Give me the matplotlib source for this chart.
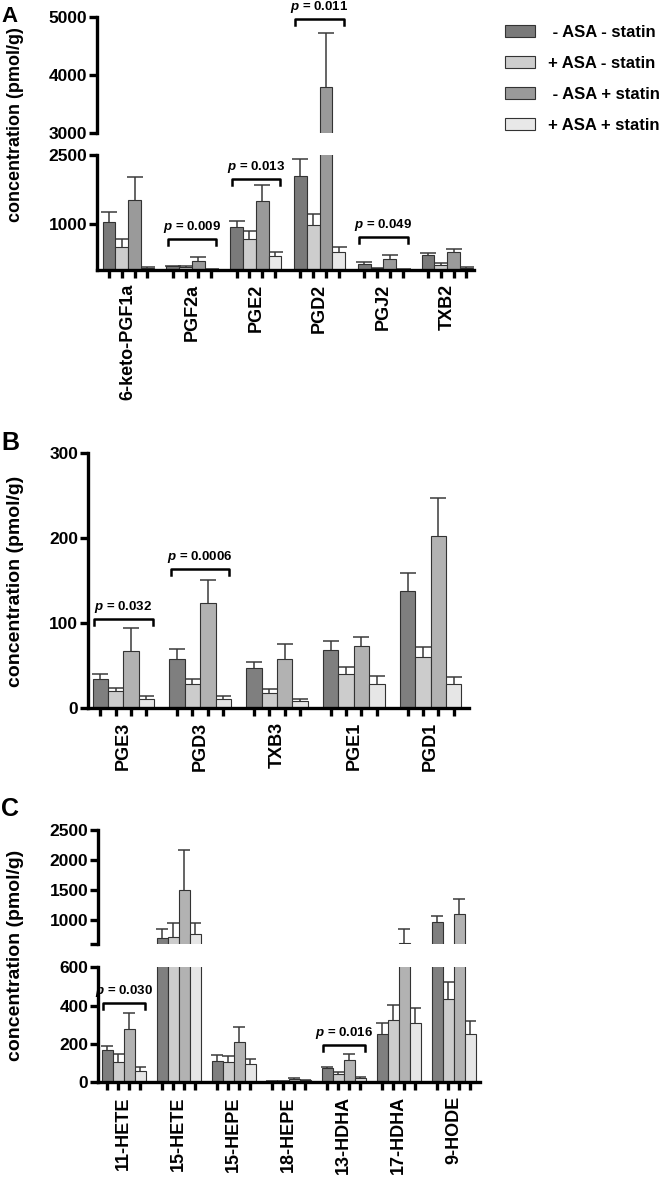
import matplotlib
matplotlib.use('Agg')
import matplotlib.pyplot as plt
from matplotlib.patches import Patch
import numpy as np

plt.rcParams['font.family'] = ['Liberation Sans', 'DejaVu Sans']
plt.rcParams['font.weight'] = 'bold'
plt.rcParams['mathtext.fontset'] = 'custom'
plt.rcParams['mathtext.it'] = 'Liberation Sans:italic:bold'
plt.rcParams['mathtext.rm'] = 'Liberation Sans:bold'

legend_labels = [' - ASA - statin', '+ ASA - statin', ' - ASA + statin', '+ ASA + statin']

# panel A (rows = treatment groups, columns = analytes)
a_names = ['6-keto-PGF1a', 'PGF2a', 'PGE2', 'PGD2', 'PGJ2', 'TXB2']
a_mean = [[1050, 80, 930, 2050, 130, 327],
          [495, 70, 675, 975, 40, 104],
          [1525, 190, 1500, 3800, 245, 385],
          [50, 20, 295, 390, 8, 52]]
a_err = [[200, 10, 145, 370, 45, 50],
         [185, 10, 165, 250, 8, 45],
         [490, 85, 350, 920, 80, 80],
         [25, 5, 90, 105, 3, 10]]
a_p = [(1, 670, '0.009'), (2, 1980, '0.013'), (3, 4960, '0.011'), (4, 720, '0.049')]

# panel B
b_names = ['PGE3', 'PGD3', 'TXB3', 'PGE1', 'PGD1']
b_mean = [[34.5, 58.4, 47.8, 69, 137.5],
          [20, 28.6, 17.6, 40, 59.8],
          [66.7, 123.5, 58.4, 72.7, 202],
          [10.6, 11.4, 8.6, 29, 28.5]]
b_err = [[6, 11, 6.7, 10, 21],
         [4.3, 6.3, 4.8, 8.4, 12.5],
         [27, 27, 17.6, 11, 45],
         [3.5, 2.7, 2, 9, 8.5]]
b_p = [(0, 105, '0.032'), (1, 163, '0.0006')]

# panel C
c_names = ['11-HETE', '15-HETE', '15-HEPE', '18-HEPE', '13-HDHA', '17-HDHA', '9-HODE']
c_mean = [[169, 694, 110, 7, 73, 254, 961],
          [108, 722, 104, 7, 43, 323, 435],
          [278, 1500, 210, 17, 117, 610, 1105],
          [61, 761, 94, 10, 21, 311, 254]]
c_err = [[22, 150, 33, 2, 5, 54, 111],
         [38, 222, 33, 2, 13, 80, 87],
         [82, 667, 80, 4, 31, 240, 245],
         [17, 195, 26, 4, 7, 79, 66]]
c_p = [(0, 412, '0.030'), (4, 195, '0.016')]

colors_a = ['#7a7a7a', '#cdcdcd', '#9a9a9a', '#e8e8e8']
colors_bc = ['#7f7f7f', '#cccccc', '#b2b2b2', '#e6e6e6']

W, H = 667, 1179
fig = plt.figure(figsize=(W / 100, H / 100), dpi=100)


def box(x0, x1, ytop, ybot):
    # pixel box -> figure fraction
    return [x0 / W, 1 - ybot / H, (x1 - x0) / W, (ybot - ytop) / H]


def draw(ax, names, means, errs, colors, capsize, xlim, bottom=True):
    n = len(names)
    for i in range(4):
        x = np.arange(n) * 5 + i
        ax.bar(x, means[i], width=1.0, color=colors[i], edgecolor='#333333', linewidth=0.8, zorder=2)
        eb = ax.errorbar(x, means[i], yerr=[np.zeros(n), errs[i]], fmt='none', ecolor='#3a3a3a',
                         elinewidth=1.1, capsize=capsize, capthick=1.1, zorder=1)
        eb[1][0].set_visible(False)  # only the upper cap
    ax.set_xlim(xlim)
    for s in ['top', 'right']:
        ax.spines[s].set_visible(False)
    ax.spines['left'].set_linewidth(2.4)
    ax.tick_params(axis='y', length=6, width=2.4, labelsize=12.5, pad=1)
    if bottom:
        ax.spines['bottom'].set_linewidth(2.4)
        ax.set_xticks([5 * g + i for g in range(n) for i in range(4)])
        ax.set_xticklabels([])
        ax.set_xticks([5 * g + 1.5 for g in range(n)], minor=True)
        ax.set_xticklabels(names, minor=True, rotation=90, fontsize=13, fontweight='bold')
        ax.tick_params(axis='x', which='major', length=6, width=2.4)
        ax.tick_params(axis='x', which='minor', length=0, pad=10)
    else:
        ax.spines['bottom'].set_visible(False)
        ax.set_xticks([])


def bracket(ax, g, y, p):
    x1, x2 = 5 * g - 0.4, 5 * g + 3.4
    y0, y1 = ax.get_ylim()
    h = (y1 - y0) * 6 / (ax.get_position().height * H)
    ax.plot([x1, x1, x2, x2], [y - h, y, y, y - h], color='black', lw=1.8, clip_on=False)
    ax.annotate(r'$p$ = ' + p, ((x1 + x2) / 2, y), xytext=(0, 3), textcoords='offset points',
                ha='center', va='bottom', fontsize=9.5, fontweight='bold', annotation_clip=False)


# ---- A ----
axA1 = fig.add_axes(box(97, 474, 17, 133))
axA2 = fig.add_axes(box(97, 474, 155, 270))
xa = (-0.94, 28.6)
draw(axA1, a_names, a_mean, a_err, colors_a, 5.5, xa, bottom=False)
draw(axA2, a_names, a_mean, a_err, colors_a, 5.5, xa)
axA1.set_ylim(3000, 5000)
axA1.set_yticks([3000, 4000, 5000])
axA2.set_ylim(0, 2500)
axA2.set_yticks([1000, 2500])
for g, y, p in a_p:
    bracket(axA1 if y > 2500 else axA2, g, y, p)

# ---- B ----
axB = fig.add_axes(box(88, 469, 452.7, 708.3))
draw(axB, b_names, b_mean, b_err, colors_bc, 5.8, (-0.8, 24))
axB.set_ylim(0, 300)
axB.set_yticks([0, 100, 200, 300])
for g, y, p in b_p:
    bracket(axB, g, y, p)

# ---- C ----
axC1 = fig.add_axes(box(98, 480, 830, 944))
axC2 = fig.add_axes(box(98, 480, 967.3, 1082.3))
xc = (-0.84, 33.9)
draw(axC1, c_names, c_mean, c_err, colors_bc, 4.5, xc, bottom=False)
draw(axC2, c_names, c_mean, c_err, colors_bc, 4.5, xc)
axC1.set_ylim(600, 2500)
axC1.set_yticks([600, 1000, 1500, 2000, 2500])
axC1.set_yticklabels(['', '1000', '1500', '2000', '2500'])
axC2.set_ylim(0, 600)
axC2.set_yticks([0, 200, 400, 600])
for g, y, p in c_p:
    bracket(axC2, g, y, p)

# y labels and panel letters
for yc, fs in [(125, 13), (581, 14), (955, 14)]:
    fig.text(16 / W, 1 - yc / H, 'concentration (pmol/g)', rotation=90, ha='center', va='center',
             fontsize=fs, fontweight='bold')
for letter, yt, fs in [('A', 6, 16), ('B', 431, 18), ('C', 797, 18)]:
    fig.text(1 / W, 1 - yt / H, letter, ha='left', va='top', fontsize=fs, fontweight='bold')

handles = [Patch(facecolor=c, edgecolor='#333333', linewidth=0.8) for c in colors_a]
fig.legend(handles, legend_labels, loc='upper left', bbox_to_anchor=(505 / W, 1 - 25 / H),
           frameon=False, fontsize=12, handlelength=1.8, handleheight=0.75, labelspacing=0.95,
           handletextpad=0.8, borderpad=0, borderaxespad=0)

fig.savefig('out.png', dpi=100)
